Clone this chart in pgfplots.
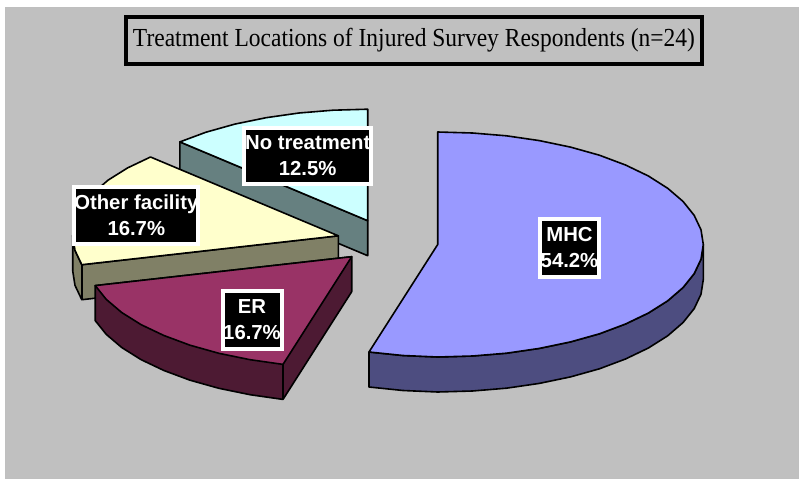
\documentclass[border=0pt]{standalone}
\usepackage{pgfplots}
\pgfplotsset{compat=1.18}
\usepackage{fontspec}
\setmainfont{Liberation Sans}
\newfontfamily\ttlfont{Liberation Serif}
\definecolor{bgg}{HTML}{C0C0C0}
\definecolor{mhct}{HTML}{9999FF}
\definecolor{mhcs}{HTML}{4D4D80}
\definecolor{ert}{HTML}{993366}
\definecolor{ers}{HTML}{4D1A33}
\definecolor{ot}{HTML}{FFFFCC}
\definecolor{os}{HTML}{808066}
\definecolor{nt}{HTML}{CCFFFF}
\definecolor{ns}{HTML}{668080}
\pgfplotsset{slice/.style={draw=black,line width=1.6pt,line join=round,mark=none}}
\tikzset{lab/.style={draw=white,fill=black,line width=4pt,text=white,inner sep=0pt,align=center,font=\fontsize{20.3}{26}\selectfont\bfseries}}
\begin{document}
\begin{tikzpicture}
\begin{axis}[scale only axis,width=800pt,height=482pt,xmin=0,xmax=800,ymin=0,ymax=482,y dir=reverse,hide axis,clip=false]
% page and panel
\addplot[draw=none,fill=white,mark=none] coordinates {(0,0)(800,0)(800,482)(0,482)} --cycle;
\addplot[draw=lightgray,line width=0.7pt,fill=bgg,mark=none] coordinates {(5.5,7)(798.5,7)(798.5,478)(5.5,478)} --cycle;
% title box
\addplot[draw=black,line width=4pt,fill=bgg,mark=none] coordinates {(126,17)(702,17)(702,64)(126,64)} --cycle;
% No treatment
\addplot[slice,fill=ns] coordinates {(179.9,141.9)(367.7,220.7)(367.7,255.7)(179.9,176.9)} --cycle;
\addplot[slice,fill=nt] coordinates {(367.7,220.7)(367.7,109.2)(333,110.2)(299,113)(266.1,117.7)(234.9,124.1)(206,132.2)(179.9,141.9)} --cycle;
% Other facility
\addplot[slice,fill=os] coordinates {(338.3,235.8)(81.8,264.7)(75,250.4)(72.7,235.8)(72.7,270.8)(75,285.4)(81.8,299.7)(338.3,270.8)} --cycle;
\addplot[slice] coordinates {(81.8,264.7)(81.8,299.7)};
\addplot[slice,fill=ot] coordinates {(338.3,235.8)(81.8,264.7)(75,250.4)(72.7,235.8)(75,221.2)(81.8,206.9)(92.9,193.1)(108.3,180)(127.6,167.9)(150.5,157)} --cycle;
% ER
\addplot[slice,fill=ers] coordinates {(351.7,256.7)(351.7,291.7)(283,399.4)(250.1,394.7)(218.9,388.3)(190,380.2)(163.9,370.5)(141,359.6)(121.7,347.5)(106.3,334.4)(95.2,320.6)(95.2,285.6)} --cycle;
\addplot[slice] coordinates {(283,364.4)(283,399.4)};
\addplot[slice,fill=ert] coordinates {(351.7,256.7)(283,364.4)(250.1,359.7)(218.9,353.3)(190,345.2)(163.9,335.5)(141,324.6)(121.7,312.5)(106.3,299.4)(95.2,285.6)} --cycle;
% MHC
\addplot[slice,fill=mhcs] coordinates {(703.3,244.5)(701,259.2)(694.2,273.6)(683.1,287.5)(667.7,300.8)(648.4,313)(625.5,324)(599.4,333.8)(570.5,341.9)(539.3,348.4)(506.4,353.2)(472.4,356)(437.7,357)(403,355.5)(369,352)(369,387)(403,390.5)(437.7,392)(472.4,391)(506.4,388.2)(539.3,383.4)(570.5,376.9)(599.4,368.8)(625.5,359)(648.4,348)(667.7,335.8)(683.1,322.5)(694.2,308.6)(701,294.2)(703.3,279.5)} --cycle;
\addplot[slice,fill=mhct] coordinates {(437.7,244.5)(437.7,132)(472.4,133)(506.4,135.8)(539.3,140.6)(570.5,147.1)(599.4,155.2)(625.5,165)(648.4,176)(667.7,188.3)(683.1,201.5)(694.2,215.4)(701,229.8)(703.3,244.5)(701,259.2)(694.2,273.6)(683.1,287.5)(667.7,300.8)(648.4,313)(625.5,324)(599.4,333.8)(570.5,341.9)(539.3,348.4)(506.4,353.2)(472.4,356)(437.7,357)(403,355.5)(369,352)} --cycle;
% texts
\node[font=\ttlfont\fontsize{26}{30}\selectfont,text=black,xscale=0.904] at (axis cs:414,40.5) {Treatment Locations of Injured Survey Respondents (n=24)};
\node[lab,minimum width=126.5pt,minimum height=56.5pt] at (axis cs:307.7,156) {No treatment\\12.5\%};
\node[lab,minimum width=122.5pt,minimum height=57pt] at (axis cs:136.3,215.3) {Other facility\\16.7\%};
\node[lab,minimum width=59pt,minimum height=58pt] at (axis cs:252,320) {ER\\16.7\%};
\node[lab,minimum width=59pt,minimum height=58pt] at (axis cs:569.5,247.5) {MHC\\54.2\%};
\end{axis}
\end{tikzpicture}
\end{document}
